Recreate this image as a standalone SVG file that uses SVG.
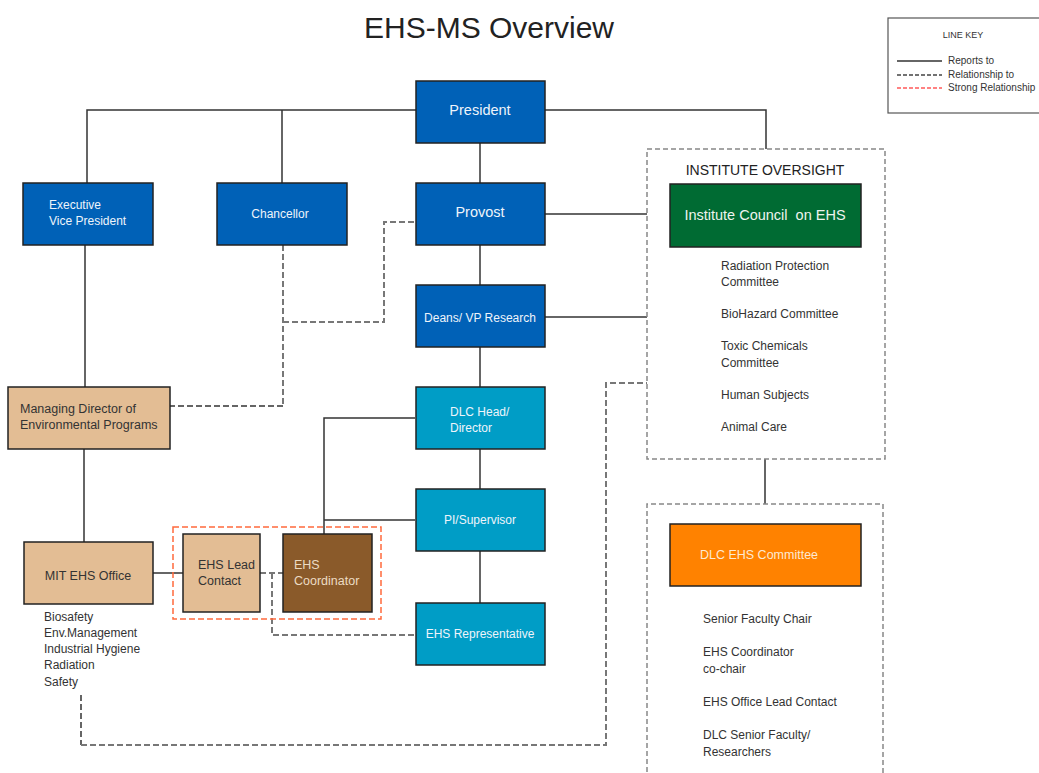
<svg xmlns="http://www.w3.org/2000/svg" width="1039" height="773" viewBox="0 0 1039 773">
<style>
text{font-family:"Liberation Sans",Arial,sans-serif}
.box{stroke:#222;stroke-width:1.5}
.blue{fill:#0061b7}
.teal{fill:#009dc6}
.tan{fill:#e3bd94}
.brown{fill:#8a5a2a}
.wt{fill:#eef4fb;font-size:12px}
.dk{fill:#333;font-size:12.5px}
.lst{fill:#333;font-size:12px}
.solid{fill:none;stroke:#333;stroke-width:1.5}
.dash{fill:none;stroke:#777;stroke-width:2;stroke-dasharray:6 3}
.dashk{fill:none;stroke:#333;stroke-width:1.5;stroke-dasharray:6 3}
.frame{fill:none;stroke:#888;stroke-width:1.5;stroke-dasharray:5 3}
.red{fill:none;stroke:#ff6a3d;stroke-width:1.5;stroke-dasharray:6 3}
</style>
<rect width="1039" height="773" fill="#fff"/>
<text x="489" y="38" text-anchor="middle" font-size="30" fill="#222">EHS-MS Overview</text>

<g id="line-key">
<rect x="888" y="18" width="156" height="95" fill="#fff" stroke="#555" stroke-width="1.2"/>
<text x="963" y="38" text-anchor="middle" font-size="9" fill="#333">LINE KEY</text>
<line x1="897" y1="61" x2="942" y2="61" stroke="#333" stroke-width="1.5"/>
<line x1="897" y1="75" x2="942" y2="75" stroke="#444" stroke-width="1.5" stroke-dasharray="4 2"/>
<line x1="897" y1="88" x2="942" y2="88" stroke="#ff5a5a" stroke-width="1.5" stroke-dasharray="4 2"/>
<text x="948" y="64" font-size="10" fill="#333">Reports to</text>
<text x="948" y="78" font-size="10" fill="#333">Relationship to</text>
<text x="948" y="91" font-size="10" fill="#333">Strong Relationship</text>
</g>

<g id="connectors">
<polyline class="solid" points="416,110 87,110 87,183"/>
<line class="solid" x1="282" y1="110" x2="282" y2="183"/>
<polyline class="solid" points="545,110 766,110 766,149"/>
<line class="solid" x1="480" y1="143" x2="480" y2="183"/>
<line class="solid" x1="480" y1="245" x2="480" y2="285"/>
<line class="solid" x1="480" y1="347" x2="480" y2="387"/>
<line class="solid" x1="480" y1="449" x2="480" y2="489"/>
<line class="solid" x1="480" y1="551" x2="480" y2="603"/>
<line class="solid" x1="545" y1="214" x2="647" y2="214"/>
<line class="solid" x1="545" y1="317" x2="647" y2="317"/>
<line class="solid" x1="85" y1="245" x2="85" y2="387"/>
<line class="solid" x1="84" y1="449" x2="84" y2="542"/>
<line class="solid" x1="153" y1="573" x2="183" y2="573"/>
<polyline class="solid" points="415,418 324,418 324,534"/>
<line class="solid" x1="324" y1="520" x2="415" y2="520"/>
<line class="solid" x1="765" y1="459" x2="765" y2="504"/>
<polyline class="dash" points="283,245 283,406"/>
<polyline class="dashk" points="283,406 170,406"/>
<polyline class="dash" points="283,322 384,322 384,222 415,222"/>
<line class="dash" x1="260" y1="573" x2="283" y2="573"/>
<polyline class="dash" points="272,573 272,635 415,635"/>
<polyline class="dashk" points="81,695 81,745"/>
<polyline class="dash" points="81,745 606,745 606,383 647,383"/>
</g>

<g id="institute-oversight">
<rect class="frame" x="647" y="149" width="238" height="310"/>
<text x="765" y="175" text-anchor="middle" font-size="14" fill="#222">INSTITUTE OVERSIGHT</text>
<rect class="box" x="670" y="184" width="191" height="63" fill="#006b33"/>
<text x="765" y="220" text-anchor="middle" font-size="14.5" fill="#eef4ee" style="white-space:pre" xml:space="preserve">Institute Council  on EHS</text>
<text class="lst" x="721" y="270">Radiation Protection</text>
<text class="lst" x="721" y="286">Committee</text>
<text class="lst" x="721" y="318">BioHazard Committee</text>
<text class="lst" x="721" y="350">Toxic Chemicals</text>
<text class="lst" x="721" y="367">Committee</text>
<text class="lst" x="721" y="399">Human Subjects</text>
<text class="lst" x="721" y="431">Animal Care</text>
</g>

<g id="dlc-ehs-committee">
<polyline class="frame" points="647,780 647,504 883,504 883,780"/>
<rect class="box" x="670" y="524" width="191" height="62" fill="#ff8200"/>
<text x="759" y="559" text-anchor="middle" font-size="12.5" fill="#fde9d2">DLC EHS Committee</text>
<text class="lst" x="703" y="623">Senior Faculty Chair</text>
<text class="lst" x="703" y="656">EHS Coordinator</text>
<text class="lst" x="703" y="673">co-chair</text>
<text class="lst" x="703" y="706">EHS Office Lead Contact</text>
<text class="lst" x="703" y="739">DLC Senior Faculty/</text>
<text class="lst" x="703" y="756">Researchers</text>
</g>

<g id="president">
<rect class="box blue" x="416" y="81" width="129" height="62"/>
<text x="480" y="115" text-anchor="middle" font-size="14.5" fill="#eef4fb">President</text>
</g>
<g id="provost">
<rect class="box blue" x="416" y="183" width="129" height="62"/>
<text x="480" y="217" text-anchor="middle" font-size="14.5" fill="#eef4fb">Provost</text>
</g>
<g id="deans">
<rect class="box blue" x="416" y="285" width="129" height="62"/>
<text class="wt" x="480" y="322" text-anchor="middle">Deans/ VP Research</text>
</g>
<g id="evp">
<rect class="box blue" x="23" y="183" width="130" height="62"/>
<text class="wt" x="49" y="209">Executive</text>
<text class="wt" x="49" y="225">Vice President</text>
</g>
<g id="chancellor">
<rect class="box blue" x="217" y="183" width="130" height="62"/>
<text class="wt" x="280" y="218" text-anchor="middle">Chancellor</text>
</g>
<g id="dlc-head">
<rect class="box teal" x="416" y="387" width="129" height="62"/>
<text class="wt" x="450" y="416">DLC Head/</text>
<text class="wt" x="450" y="432">Director</text>
</g>
<g id="pi-supervisor">
<rect class="box teal" x="416" y="489" width="129" height="62"/>
<text class="wt" x="480" y="524" text-anchor="middle">PI/Supervisor</text>
</g>
<g id="ehs-representative">
<rect class="box teal" x="416" y="603" width="129" height="62"/>
<text class="wt" x="480" y="638" text-anchor="middle">EHS Representative</text>
</g>
<g id="managing-director">
<rect class="box tan" x="8" y="387" width="162" height="62"/>
<text class="dk" x="20" y="413">Managing Director of</text>
<text class="dk" x="20" y="429">Environmental Programs</text>
</g>
<g id="mit-ehs-office">
<rect class="box tan" x="24" y="542" width="129" height="62"/>
<text class="dk" x="88" y="580" text-anchor="middle">MIT EHS Office</text>
<text class="lst" x="44" y="621">Biosafety</text>
<text class="lst" x="44" y="637">Env.Management</text>
<text class="lst" x="44" y="653">Industrial Hygiene</text>
<text class="lst" x="44" y="669">Radiation</text>
<text class="lst" x="44" y="686">Safety</text>
</g>
<g id="strong-relationship">
<rect class="red" x="173" y="527" width="208" height="92"/>
</g>
<g id="ehs-lead-contact">
<rect class="box tan" x="183" y="534" width="77" height="78"/>
<text class="dk" x="198" y="569">EHS Lead</text>
<text class="dk" x="198" y="585">Contact</text>
</g>
<g id="ehs-coordinator">
<rect class="box brown" x="283" y="534" width="89" height="78"/>
<text x="294" y="569" font-size="12.5" fill="#ecdcc4">EHS</text>
<text x="294" y="585" font-size="12.5" fill="#ecdcc4">Coordinator</text>
</g>
</svg>
